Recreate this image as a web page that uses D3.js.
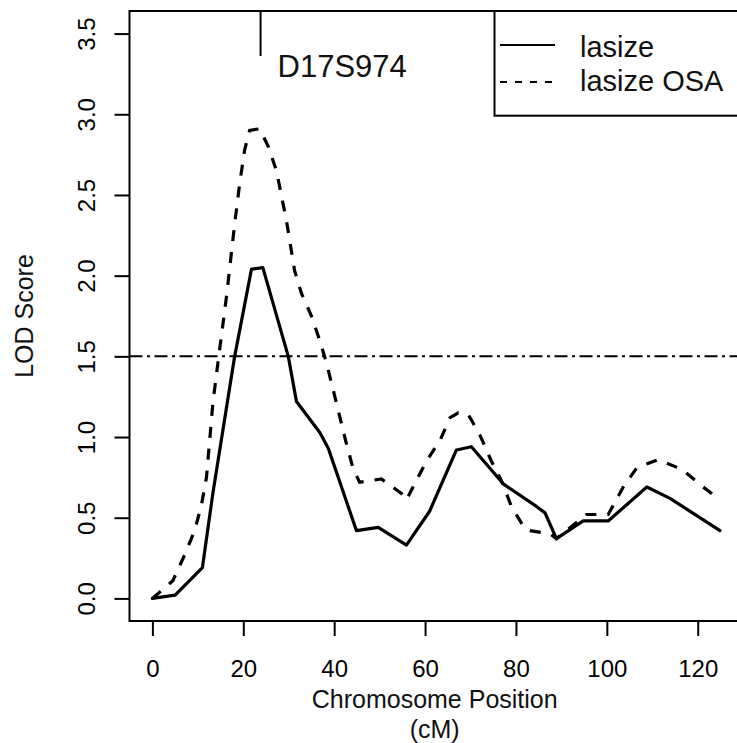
<!DOCTYPE html>
<html>
<head>
<meta charset="utf-8">
<script src="https://cdn.jsdelivr.net/npm/d3@7"></script>
<style>
  html, body { margin: 0; padding: 0; background: #fff; }
  svg { display: block; font-family: "Liberation Sans", Arial, Helvetica, sans-serif; }
</style>
</head>
<body>
<svg id="chart" width="737" height="743"></svg>
<script>
// ---- data ----
const lasizePos = [0, 5, 11, 13.3, 18.1, 21.8, 24.3, 29.9, 31.7, 36.8, 38.7, 44.9, 49.7, 55.9, 61, 66.9, 70.2, 77.2, 84.5, 86.4, 88.9, 94.8, 100.3, 108.8, 113.9, 124.9];
const lasizeLOD = [0, 0.02, 0.19, 0.65, 1.5, 2.04, 2.05, 1.5, 1.22, 1.03, 0.93, 0.42, 0.44, 0.33, 0.54, 0.92, 0.94, 0.71, 0.57, 0.53, 0.37, 0.48, 0.48, 0.69, 0.62, 0.42];

const osaPos = [0, 4.5, 7.1, 9.3, 10.8, 11.9, 13.3, 14.6, 16.3, 18.1, 19.2, 20.3, 21.4, 23.6, 25.5, 27.3, 29.5, 31.3, 32.8, 35, 36.8, 38.3, 39.8, 42.5, 44.2, 45.6, 50.4, 54.8, 55.9, 57.7, 60.3, 63.3, 65.5, 67.3, 69.5, 72.1, 74.6, 76.8, 79, 82, 83.1, 87.5, 88.9, 95.5, 100.3, 103.6, 106.6, 111.3, 116.5, 121.2, 124.9];
const osaLOD = [0, 0.11, 0.27, 0.42, 0.58, 0.75, 1.21, 1.5, 1.87, 2.32, 2.57, 2.78, 2.9, 2.91, 2.8, 2.65, 2.34, 2.03, 1.89, 1.75, 1.6, 1.46, 1.29, 0.98, 0.8, 0.72, 0.74, 0.65, 0.61, 0.71, 0.85, 0.98, 1.12, 1.15, 1.14, 1.01, 0.85, 0.73, 0.57, 0.43, 0.42, 0.40, 0.37, 0.52, 0.52, 0.69, 0.81, 0.86, 0.8, 0.69, 0.61];

const xTicks = [0, 20, 40, 60, 80, 100, 120];
const yTicks = [0, 0.5, 1, 1.5, 2, 2.5, 3, 3.5];
const threshold = 1.5;
const markerName = "D17S974";
const markerPos = 23.8;
const seriesNames = ["lasize", "lasize OSA"];
const xTitle = ["Chromosome Position", "(cM)"];
const yTitle = "LOD Score";

// ---- layout ----
const svg = d3.select("#chart");
const L = 129.5, R = 747.9, T = 11, B = 621;
const x = d3.scaleLinear().domain([-5.04, 131.04]).range([L, R]);
const y = d3.scaleLinear().domain([-0.14, 3.64]).range([B, T]);

// threshold line
svg.append("line")
  .attr("x1", L).attr("x2", R)
  .attr("y1", y(threshold)).attr("y2", y(threshold))
  .attr("stroke", "#000").attr("stroke-width", 2)
  .attr("stroke-dasharray", "13,4.5,3,4.5");

// curves
const line = d3.line().x(d => x(d[0])).y(d => y(d[1]));
const solidData = lasizePos.map((p, i) => [p, lasizeLOD[i]]);
const dashData = osaPos.map((p, i) => [p, osaLOD[i]]);

svg.append("path").datum(dashData)
  .attr("d", line).attr("fill", "none")
  .attr("stroke", "#000").attr("stroke-width", 3.2)
  .attr("stroke-dasharray", "11,11");

svg.append("path").datum(solidData)
  .attr("d", line).attr("fill", "none")
  .attr("stroke", "#000").attr("stroke-width", 3.2)
  .attr("stroke-linejoin", "round").attr("stroke-linecap", "round");

// frame
svg.append("rect")
  .attr("x", L).attr("y", T).attr("width", R - L).attr("height", B - T)
  .attr("fill", "none").attr("stroke", "#000").attr("stroke-width", 2);

// x axis
const gx = svg.append("g").attr("transform", `translate(0,${B})`)
  .call(d3.axisBottom(x).tickValues(xTicks).tickSize(15).tickPadding(4).tickFormat(d3.format("d")));
gx.select(".domain").remove();
gx.selectAll(".tick line").attr("stroke", "#000").attr("stroke-width", 2);
gx.selectAll(".tick text")
  .attr("y", 56).attr("dy", 0)
  .attr("fill", "#000")
  .style("font-size", "24px").style("font-family", "'Liberation Sans', Arial, sans-serif");

// y axis
const gy = svg.append("g").attr("transform", `translate(${L},0)`)
  .call(d3.axisLeft(y).tickValues(yTicks).tickSize(15).tickFormat(d3.format(".1f")));
gy.select(".domain").remove();
gy.selectAll(".tick line").attr("stroke", "#000").attr("stroke-width", 2);
gy.selectAll(".tick text")
  .attr("transform", "rotate(-90)")
  .attr("x", 0).attr("y", -(L - 95)).attr("dy", 0)
  .attr("fill", "#000")
  .style("text-anchor", "middle")
  .style("font-size", "24px").style("font-family", "'Liberation Sans', Arial, sans-serif");

// axis titles
const cx = (L + R) / 2 - 4;
svg.append("text").attr("x", cx).attr("y", 708)
  .attr("text-anchor", "middle").style("font-size", "25px").attr("fill", "#111")
  .text(xTitle[0]);
svg.append("text").attr("x", cx).attr("y", 738)
  .attr("text-anchor", "middle").style("font-size", "25px").attr("fill", "#111")
  .text(xTitle[1]);
svg.append("text")
  .attr("transform", `translate(33,${(T + B) / 2}) rotate(-90)`)
  .attr("text-anchor", "middle").style("font-size", "25px").attr("fill", "#111")
  .text(yTitle);

// marker
svg.append("line")
  .attr("x1", x(markerPos)).attr("x2", x(markerPos))
  .attr("y1", T).attr("y2", 56)
  .attr("stroke", "#000").attr("stroke-width", 2);
svg.append("text").attr("x", x(markerPos) + 17).attr("y", 77)
  .style("font-size", "31px").attr("fill", "#111")
  .text(markerName);

// legend
const lg = svg.append("g");
lg.append("rect")
  .attr("x", 494.5).attr("y", T).attr("width", R - 494.5).attr("height", 115.7 - T)
  .attr("fill", "#fff").attr("stroke", "#000").attr("stroke-width", 2);
const legY = [45, 82];
const legBase = [57, 91];
lg.append("line").attr("x1", 500).attr("x2", 555).attr("y1", legY[0]).attr("y2", legY[0])
  .attr("stroke", "#000").attr("stroke-width", 2);
lg.append("line").attr("x1", 500).attr("x2", 556).attr("y1", legY[1]).attr("y2", legY[1])
  .attr("stroke", "#000").attr("stroke-width", 2).attr("stroke-dasharray", "7,8");
seriesNames.forEach((n, i) => {
  lg.append("text").attr("x", 580).attr("y", legBase[i])
    .style("font-size", "29px").attr("fill", "#111").text(n);
});
</script>
</body>
</html>
